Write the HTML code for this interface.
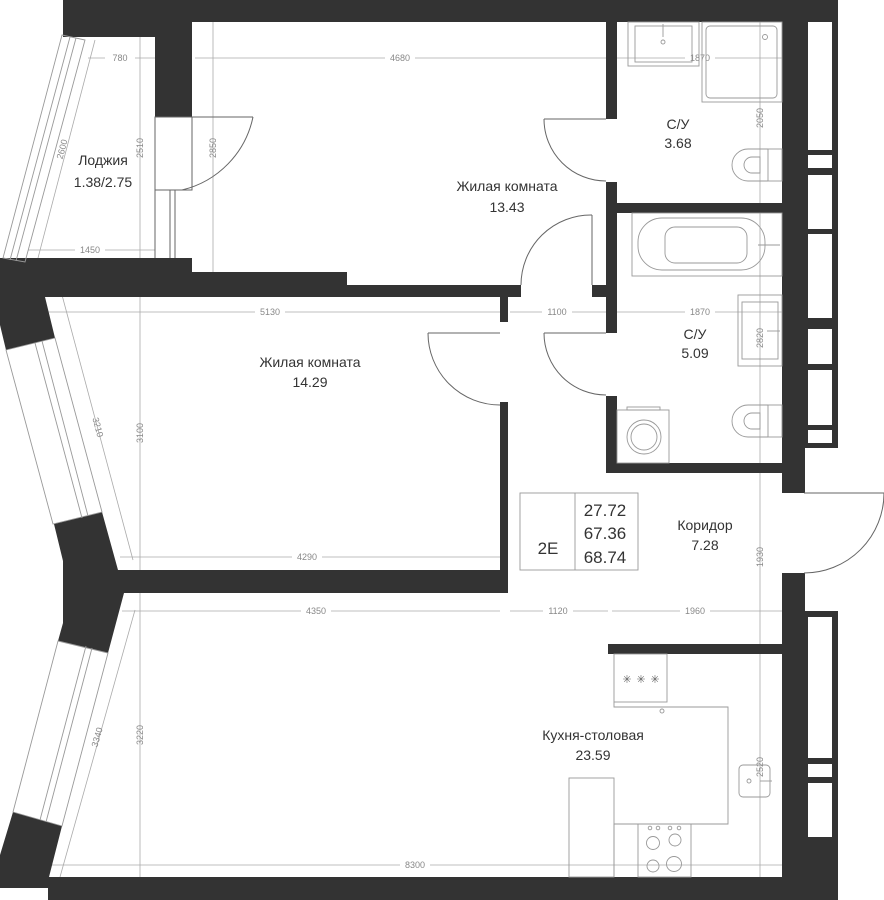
<!DOCTYPE html>
<html><head><meta charset="utf-8"><style>
html,body{margin:0;padding:0;background:#fff}
svg{display:block}
.w{fill:#333}
.d{stroke:#aaa;stroke-width:0.8;fill:none}
.dt{font-family:"Liberation Sans",sans-serif;font-size:9px;fill:#888;text-anchor:middle}
.l{font-family:"Liberation Sans","Noto Sans CJK JP",sans-serif;font-size:14px;fill:#333;text-anchor:middle}
.f{stroke:#999;stroke-width:0.9;fill:none}
.door{stroke:#666;stroke-width:1;fill:none}
</style></head><body>
<svg width="884" height="900" viewBox="0 0 884 900" xmlns="http://www.w3.org/2000/svg">
<g class="d">
<line x1="88" y1="58" x2="155" y2="58"/><line x1="195" y1="58" x2="606" y2="58"/><line x1="617" y1="58" x2="782" y2="58"/>
<line x1="140" y1="37" x2="140" y2="258"/><line x1="213" y1="22" x2="213" y2="272"/>
<line x1="28" y1="250" x2="155" y2="250"/><line x1="760" y1="22" x2="760" y2="203"/>
<line x1="48" y1="312" x2="500" y2="312"/><line x1="510" y1="312" x2="606" y2="312"/><line x1="617" y1="312" x2="782" y2="312"/>
<line x1="760" y1="213" x2="760" y2="463"/><line x1="140" y1="297" x2="140" y2="570"/>
<line x1="120" y1="557" x2="500" y2="557"/><line x1="760" y1="473" x2="760" y2="644"/>
<line x1="122" y1="611" x2="500" y2="611"/><line x1="510" y1="611" x2="608" y2="611"/><line x1="612" y1="611" x2="782" y2="611"/>
<line x1="140" y1="593" x2="140" y2="877"/><line x1="760" y1="654" x2="760" y2="877"/>
<line x1="50" y1="865" x2="782" y2="865"/>
<line x1="95" y1="40" x2="38" y2="258"/><line x1="62" y1="295" x2="133" y2="560"/><line x1="135" y1="610" x2="60" y2="877"/>
</g>
<g>
<rect x="105" y="52" width="30" height="12" fill="#fff"/><text class="dt" x="120" y="61">780</text>
<rect x="385" y="52" width="30" height="12" fill="#fff"/><text class="dt" x="400" y="61">4680</text>
<rect x="685" y="52" width="30" height="12" fill="#fff"/><text class="dt" x="700" y="61">1870</text>
<rect x="75" y="244" width="30" height="12" fill="#fff"/><text class="dt" x="90" y="253">1450</text>
<rect x="255" y="306" width="30" height="12" fill="#fff"/><text class="dt" x="270" y="315">5130</text>
<rect x="542" y="306" width="30" height="12" fill="#fff"/><text class="dt" x="557" y="315">1100</text>
<rect x="685" y="306" width="30" height="12" fill="#fff"/><text class="dt" x="700" y="315">1870</text>
<rect x="292" y="551" width="30" height="12" fill="#fff"/><text class="dt" x="307" y="560">4290</text>
<rect x="301" y="605" width="30" height="12" fill="#fff"/><text class="dt" x="316" y="614">4350</text>
<rect x="543" y="605" width="30" height="12" fill="#fff"/><text class="dt" x="558" y="614">1120</text>
<rect x="680" y="605" width="30" height="12" fill="#fff"/><text class="dt" x="695" y="614">1960</text>
<rect x="400" y="859" width="30" height="12" fill="#fff"/><text class="dt" x="415" y="868">8300</text>
<text class="dt" transform="translate(143,148) rotate(-90)">2510</text>
<text class="dt" transform="translate(216,148) rotate(-90)">2850</text>
<text class="dt" transform="translate(763,118) rotate(-90)">2050</text>
<text class="dt" transform="translate(763,338) rotate(-90)">2820</text>
<text class="dt" transform="translate(143,433) rotate(-90)">3100</text>
<text class="dt" transform="translate(763,557) rotate(-90)">1930</text>
<text class="dt" transform="translate(143,735) rotate(-90)">3220</text>
<text class="dt" transform="translate(763,767) rotate(-90)">2520</text>
<text class="dt" transform="translate(65,150) rotate(-75)">2600</text>
<text class="dt" transform="translate(95,428) rotate(75)">3210</text>
<text class="dt" transform="translate(100,738) rotate(-74)">3340</text>
</g>
<g class="w">
<rect x="63" y="0" width="775" height="22"/>
<rect x="63" y="0" width="92" height="37"/>
<rect x="155" y="0" width="37" height="117"/>
<rect x="804" y="0" width="34" height="448"/>
<rect x="782" y="0" width="23" height="493"/>
<rect x="782" y="573" width="23" height="327"/>
<rect x="782" y="611" width="56" height="289"/>
<rect x="606" y="22" width="11" height="97"/>
<rect x="606" y="182" width="11" height="151"/>
<rect x="606" y="396" width="11" height="77"/>
<rect x="606" y="463" width="198" height="10"/>
<rect x="606" y="203" width="199" height="10"/>
<rect x="592" y="285" width="25" height="12"/>
<rect x="500" y="285" width="21" height="12"/>
<rect x="500" y="285" width="8" height="37"/>
<rect x="500" y="402" width="8" height="191"/>
<rect x="192" y="272" width="155" height="25"/>
<rect x="347" y="285" width="160" height="12"/>
<polygon points="0,258 192,258 192,297 45,297 55,338 6,350 0,325"/>
<polygon points="54,524 102,512 118,570 508,570 508,593 124,593 108,653 58,641 63,623 63,561"/>
<polygon points="13,812 62,826 49,877 805,877 805,900 48,900 48,888 0,888 0,855"/>
<rect x="608" y="644" width="174" height="10"/>
</g>
<g fill="#fff">
<rect x="808" y="22" width="24" height="128"/><rect x="808" y="155" width="24" height="13"/>
<rect x="808" y="175" width="24" height="54"/><rect x="808" y="234" width="24" height="84"/>
<rect x="808" y="329" width="24" height="35"/><rect x="808" y="370" width="24" height="55"/>
<rect x="808" y="430" width="24" height="13"/>
<rect x="808" y="617" width="24" height="141"/><rect x="808" y="764" width="24" height="13"/>
<rect x="808" y="783" width="24" height="54"/>
</g>
<g class="f">
<polygon points="62,35 85,40 25,262 3,258"/><line x1="70" y1="37" x2="10" y2="260"/><line x1="76" y1="38" x2="16" y2="261"/>
<polygon points="6,350 55,338 102,512 53,524"/><line x1="35" y1="343" x2="82" y2="518"/><line x1="42" y1="341" x2="88" y2="516"/>
<polygon points="58,641 108,653 62,826 13,812"/><line x1="86" y1="646" x2="40" y2="820"/><line x1="92" y1="648" x2="46" y2="822"/>
</g>
<g class="door">
<rect x="155" y="117" width="37" height="73"/><line x1="192" y1="117" x2="253" y2="117"/>
<path d="M253,117 A95,95 0 0 1 182,190"/>
<line x1="170" y1="190" x2="170" y2="258"/><line x1="175" y1="190" x2="175" y2="258"/><line x1="155" y1="190" x2="155" y2="258"/>
<line x1="592" y1="215" x2="592" y2="285"/><path d="M592,215 A70,70 0 0 0 521,285"/>
<line x1="544" y1="119" x2="606" y2="119"/><path d="M544,119 A62,62 0 0 0 606,181"/>
<line x1="544" y1="333" x2="606" y2="333"/><path d="M544,333 A62,62 0 0 0 606,395"/>
<line x1="428" y1="333" x2="500" y2="333"/><path d="M428,333 A72,72 0 0 0 500,405"/>
<line x1="804" y1="493" x2="884" y2="493"/><path d="M884,493 A80,80 0 0 1 804,573"/>
</g>
<g class="f">
<rect x="628" y="22" width="71" height="44"/><rect x="635" y="26" width="57" height="36"/><circle cx="663" cy="42" r="2"/><line x1="663" y1="24" x2="663" y2="37"/>
<rect x="702" y="22" width="80" height="80"/><rect x="706" y="26" width="71" height="72" rx="4"/><circle cx="765" cy="37" r="2.5"/>
<path d="M768,149 H748 A16,16 0 0 0 748,181 H768"/><path d="M760,157 H752 A8,8 0 0 0 752,173 H760 Z"/><rect x="768" y="149" width="14" height="32"/>
<rect x="632" y="213" width="150" height="63"/><rect x="638" y="218" width="127" height="52" rx="24"/><rect x="665" y="227" width="82" height="36" rx="10"/><line x1="758" y1="245" x2="780" y2="245"/>
<rect x="738" y="295" width="44" height="71"/><rect x="742" y="302" width="36" height="57"/><line x1="767" y1="331" x2="780" y2="331"/>
<path d="M768,405 H748 A16,16 0 0 0 748,437 H768"/><path d="M760,413 H752 A8,8 0 0 0 752,429 H760 Z"/><rect x="768" y="405" width="14" height="32"/>
<rect x="617" y="410" width="52" height="53"/><circle cx="644" cy="437" r="17"/><circle cx="644" cy="437" r="13"/><rect x="627" y="407" width="33" height="3"/>
<rect x="520" y="493" width="118" height="77"/><line x1="575" y1="493" x2="575" y2="570"/>
<rect x="614" y="654" width="53" height="48"/><line x1="614" y1="707" x2="667" y2="707"/>
<polyline points="614,702 614,707 728,707 728,824 614,824 614,877"/>
<circle cx="662" cy="711" r="2"/>
<rect x="638" y="824" width="53" height="53"/><circle cx="653" cy="843" r="6.5"/><circle cx="675" cy="840" r="6"/><circle cx="653" cy="866" r="6"/><circle cx="674" cy="864" r="7.5"/>
<circle cx="650" cy="828" r="1.8"/><circle cx="658" cy="828" r="1.8"/><circle cx="670" cy="828" r="1.8"/><circle cx="679" cy="828" r="1.8"/>
<rect x="569" y="778" width="45" height="99"/>
<rect x="739" y="765" width="31" height="32" rx="4"/><circle cx="749" cy="781" r="2"/><line x1="760" y1="781" x2="772" y2="781"/>
</g>
<g font-family="Liberation Sans,sans-serif" font-size="11" fill="#666" text-anchor="middle">
<text x="627" y="683">✳</text><text x="641" y="683">✳</text><text x="655" y="683">✳</text>
</g>
<text class="l" x="103" y="165">Лоджия</text><text class="l" x="103" y="187">1.38/2.75</text>
<text class="l" x="507" y="191">Жилая комната</text><text class="l" x="507" y="212">13.43</text>
<text class="l" x="678" y="129">С/У</text><text class="l" x="678" y="148">3.68</text>
<text class="l" x="695" y="339">С/У</text><text class="l" x="695" y="358">5.09</text>
<text class="l" x="310" y="367">Жилая комната</text><text class="l" x="310" y="387">14.29</text>
<text class="l" x="705" y="530">Коридор</text><text class="l" x="705" y="550">7.28</text>
<text class="l" x="593" y="740">Кухня-столовая</text><text class="l" x="593" y="760">23.59</text>
<g font-family="Liberation Sans,sans-serif" font-size="17" fill="#333" text-anchor="middle">
<text x="548" y="554">2E</text><text x="605" y="516">27.72</text><text x="605" y="539">67.36</text><text x="605" y="563">68.74</text>
</g>
</svg>
</body></html>
